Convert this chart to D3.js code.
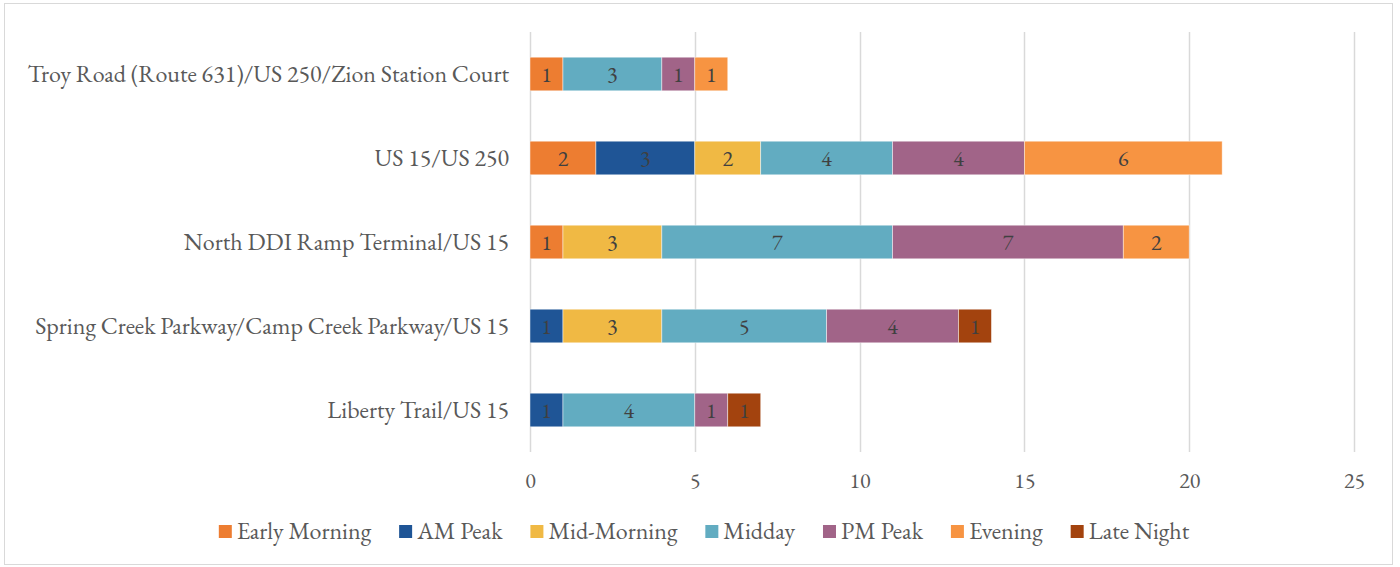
<!DOCTYPE html>
<html>
<head>
<meta charset="utf-8">
<script src="https://cdn.jsdelivr.net/npm/d3@7"></script>
<style>
  html, body { margin: 0; padding: 0; background: #fff; }
  svg { display: block; }
  text { font-family: "EB Garamond", "Liberation Serif", serif; }
</style>
</head>
<body>
<svg id="chart" width="1400" height="567"></svg>
<script>
// Intersections, listed top to bottom
const categories = [
  "Troy Road (Route 631)/US 250/Zion Station Court",
  "US 15/US 250",
  "North DDI Ramp Terminal/US 15",
  "Spring Creek Parkway/Camp Creek Parkway/US 15",
  "Liberty Trail/US 15"
];

// Time-of-day periods (stack order, left to right)
const periods = ["Early Morning", "AM Peak", "Mid-Morning", "Midday", "PM Peak", "Evening", "Late Night"];
const colors  = ["#ED7D31", "#1F5596", "#F0B944", "#62ACC1", "#A16488", "#F79442", "#A3430E"];

// Counts per period, one value per intersection (same order as categories)
const earlyMorning = [1, 2, 1, 0, 0];
const amPeak       = [0, 3, 0, 1, 1];
const midMorning   = [0, 2, 3, 3, 0];
const midday       = [3, 4, 7, 5, 4];
const pmPeak       = [1, 4, 7, 4, 1];
const evening      = [1, 6, 2, 0, 0];
const lateNight    = [0, 0, 0, 1, 1];

const xTicks = [0, 5, 10, 15, 20, 25];

const seriesValues = [earlyMorning, amPeak, midMorning, midday, pmPeak, evening, lateNight];

const rows = categories.map((c, i) => {
  const r = { category: c };
  periods.forEach((p, k) => { r[p] = seriesValues[k][i]; });
  return r;
});

const svg = d3.select("#chart");
const W = 1400, H = 567;

// outer chart frame
svg.append("rect")
  .attr("x", 4.5).attr("y", 3.5)
  .attr("width", 1388).attr("height", 561)
  .attr("fill", "#fff").attr("stroke", "#D9D9D9").attr("stroke-width", 1);

const plot = { left: 530, right: 1354, top: 32, bottom: 452 };

const x = d3.scaleLinear().domain([0, 25]).range([plot.left, plot.right]);
const y = d3.scaleBand().domain(categories).range([plot.top, plot.bottom]).paddingInner(0.6).paddingOuter(0.3);

// vertical gridlines
svg.append("g")
  .selectAll("line")
  .data(xTicks)
  .join("line")
  .attr("x1", d => Math.round(x(d)) + 0.5).attr("x2", d => Math.round(x(d)) + 0.5)
  .attr("y1", plot.top).attr("y2", plot.bottom)
  .attr("stroke", "#D9D9D9").attr("stroke-width", 1.5);

// x axis tick labels
const xAxis = d3.axisBottom(x).tickValues(xTicks).tickSize(0).tickPadding(0);
const gx = svg.append("g")
  .attr("transform", `translate(0, ${plot.bottom + 36})`)
  .call(xAxis);
gx.select(".domain").remove();
gx.selectAll("text")
  .attr("dy", 0)
  .attr("font-size", 22)
  .attr("fill", "#595959");

// category labels
const yAxis = d3.axisLeft(y).tickSize(0).tickPadding(21);
const gy = svg.append("g")
  .attr("transform", `translate(${plot.left}, 0)`)
  .call(yAxis);
gy.select(".domain").remove();
gy.selectAll("text")
  .attr("font-size", 24)
  .attr("fill", "#595959");

// stacked bars
const stack = d3.stack().keys(periods);
const stacked = stack(rows);

const layers = svg.append("g")
  .selectAll("g")
  .data(stacked)
  .join("g")
  .attr("fill", (d, i) => colors[i]);

layers.selectAll("rect")
  .data(d => d.filter(s => s[1] - s[0] > 0))
  .join("rect")
  .attr("x", d => x(d[0]))
  .attr("y", d => y(d.data.category))
  .attr("width", d => x(d[1]) - x(d[0]))
  .attr("height", y.bandwidth())
  .attr("stroke", "#fff")
  .attr("stroke-opacity", 0.6)
  .attr("stroke-width", 0.75);

// value labels inside segments
layers.selectAll("text")
  .data(d => d.filter(s => s[1] - s[0] > 0))
  .join("text")
  .attr("x", d => (x(d[0]) + x(d[1])) / 2)
  .attr("y", d => y(d.data.category) + y.bandwidth() / 2)
  .attr("dy", "0.35em")
  .attr("text-anchor", "middle")
  .attr("font-size", 22)
  .attr("fill", "#404040")
  .text(d => d[1] - d[0]);

// legend, centered under the chart
const legend = svg.append("g").attr("transform", `translate(0, 531)`);
const items = legend.selectAll("g")
  .data(periods)
  .join("g");
items.append("rect")
  .attr("width", 13).attr("height", 13)
  .attr("y", -6)
  .attr("fill", (d, i) => colors[i]);
items.append("text")
  .attr("x", 18)
  .attr("dy", "0.35em")
  .attr("font-size", 24)
  .attr("fill", "#595959")
  .text(d => d);

const gap = 28;
let cursor = 0;
const offsets = [];
items.each(function () {
  offsets.push(cursor);
  const tw = d3.select(this).select("text").node().getComputedTextLength();
  cursor += 18 + tw + gap;
});
const totalW = cursor - gap;
const startX = (W - totalW) / 2 + 4;
items.attr("transform", (d, i) => `translate(${startX + offsets[i]}, 0)`);
</script>
</body>
</html>
